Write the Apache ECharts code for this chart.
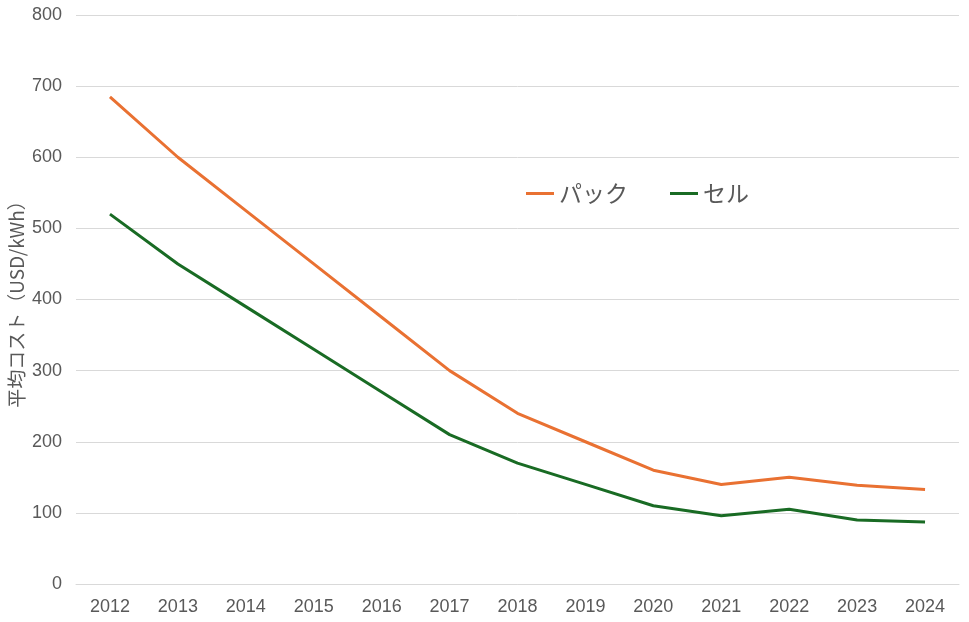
<!DOCTYPE html>
<html><head><meta charset="utf-8">
<script src="https://cdn.jsdelivr.net/npm/echarts@6/dist/echarts.min.js"></script>
<style>html,body{margin:0;padding:0;background:#fff}#c{width:969px;height:622px}</style>
</head><body><div id="c"></div>
<script>
const years = ['2012','2013','2014','2015','2016','2017','2018','2019','2020','2021','2022','2023','2024'];
const pack = [685, 600, 525, 450, 375, 300, 240, 200, 160, 140, 150, 139, 133];
const cell = [520, 450, 390, 330, 270, 210, 170, 140, 110, 96, 105, 90, 87];
const seriesNames = ['パック', 'セル'];
const yAxisName = '平均コスト（USD/kWh）';

const font = '"Noto Sans CJK JP", "Liberation Sans", sans-serif';
const latin = '"Liberation Sans", Arial, sans-serif';
const chart = echarts.init(document.getElementById('c'));
chart.setOption({
  animation: false,
  textStyle: { fontFamily: font },
  grid: { left: 76, right: 10, top: 15, bottom: 38, containLabel: false, outerBoundsMode: 'none' },
  legend: {
    data: seriesNames, left: 521, top: 177, itemWidth: 28, itemHeight: 3, itemGap: 42,
    itemTextGap: 2, icon: 'rect',
    textStyle: { fontSize: 23, color: '#595959', fontFamily: font }
  },
  xAxis: {
    type: 'category', data: years, boundaryGap: true,
    axisLine: { show: true, lineStyle: { color: '#d9d9d9' } },
    axisTick: { show: false },
    axisLabel: { fontSize: 18, color: '#595959', margin: 14, fontFamily: latin }
  },
  yAxis: {
    type: 'value', min: 0, max: 800, interval: 100,
    name: yAxisName, nameLocation: 'middle', nameGap: 50, nameRotate: 90,
    nameMoveOverlap: false,
    nameTextStyle: { fontSize: 19, color: '#595959', fontFamily: font },
    axisLine: { show: false }, axisTick: { show: false },
    axisLabel: { fontSize: 18, color: '#595959', margin: 14, fontFamily: latin },
    splitLine: { lineStyle: { color: '#d9d9d9', width: 1 } }
  },
  series: [
    { name: seriesNames[0], type: 'line', data: pack, showSymbol: false, symbol: 'none',
      lineStyle: { color: '#E97132', width: 3 }, itemStyle: { color: '#E97132' } },
    { name: seriesNames[1], type: 'line', data: cell, showSymbol: false, symbol: 'none',
      lineStyle: { color: '#196B24', width: 3 }, itemStyle: { color: '#196B24' } }
  ]
});
</script></body></html>
